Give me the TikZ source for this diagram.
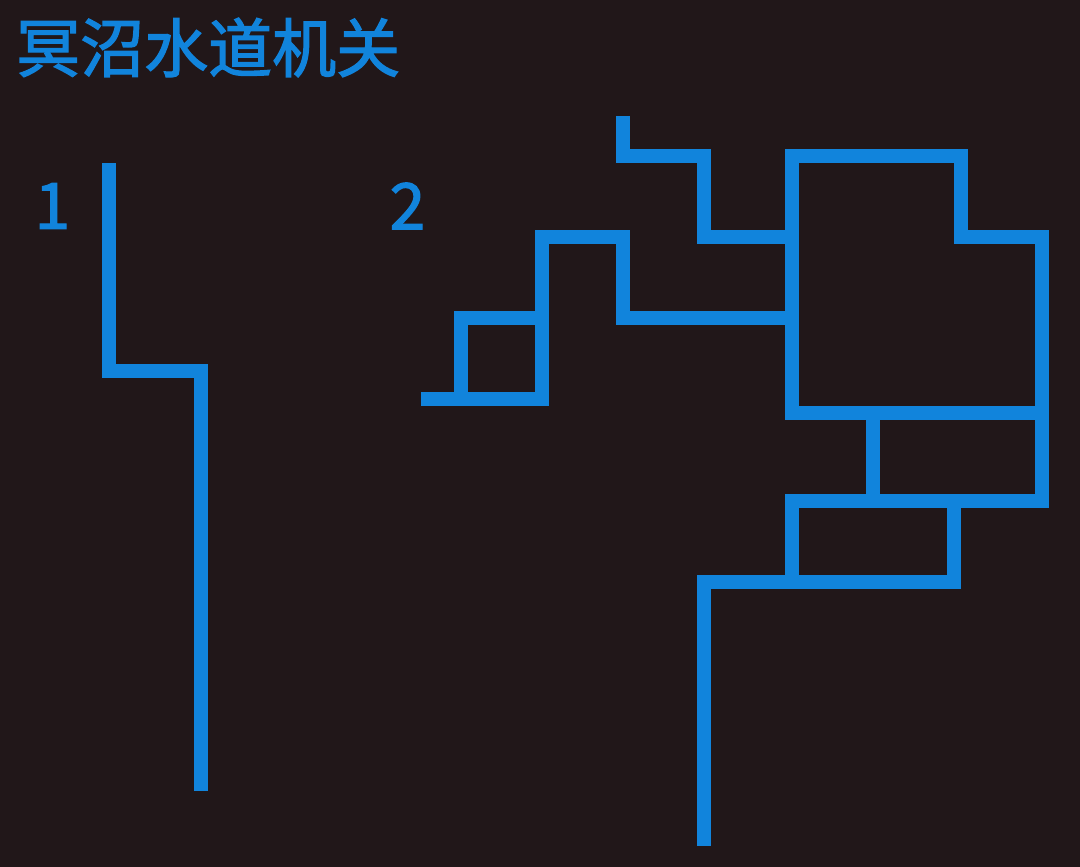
\documentclass[tikz,border=0pt]{standalone}
\usepackage{fontspec}
\newfontfamily\cjkfont[FakeBold=2]{Noto Sans CJK SC}
\definecolor{bgcol}{RGB}{33,23,25}
\definecolor{water}{RGB}{17,132,220}
\begin{document}
\begin{tikzpicture}[x=1pt,y=-1pt,
  pipe/.style={draw=water,line width=14pt,line join=miter,line cap=butt},
  label/.style={text=water,inner sep=0pt,font=\cjkfont\fontsize{64}{64}\selectfont}]
\fill[bgcol] (0,0) rectangle (1080,867);
\useasboundingbox (0,0) rectangle (1080,867);
% title and labels
\node[label,anchor=west] (title) at (16,47.5) {冥沼水道机关};
\node[label] (one) at (52.5,206) {1};
\node[label] (two) at (407.5,206) {2};
% maze 1
\draw[pipe] (109,163) -- (109,371) -- (201,371) -- (201,791);
% maze 2
\draw[pipe] (623,116) -- (623,156) -- (704,156) -- (704,237) -- (792,237);
\draw[pipe] (792,156) -- (961,156) -- (961,237) -- (1042,237) -- (1042,413) -- (792,413) -- cycle;
\draw[pipe] (1042,413) -- (1042,501) -- (792,501) -- (792,582);
\draw[pipe] (873,413) -- (873,501);
\draw[pipe] (954,501) -- (954,582) -- (704,582) -- (704,846);
\draw[pipe] (421,399) -- (542,399) -- (542,237) -- (623,237) -- (623,318) -- (792,318);
\draw[pipe] (461,399) -- (461,318) -- (542,318);
\end{tikzpicture}
\end{document}
